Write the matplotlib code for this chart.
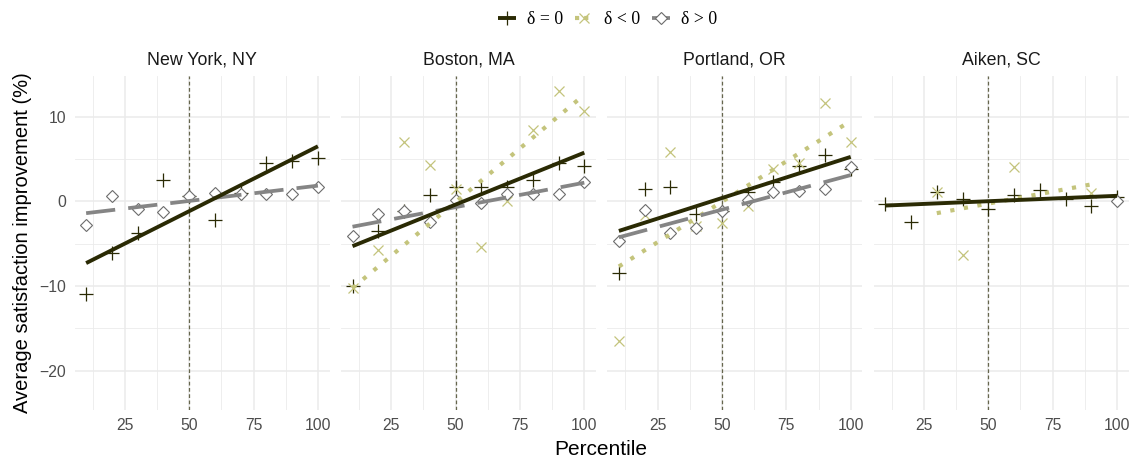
import numpy as np
import matplotlib as mpl
import matplotlib.pyplot as plt
from matplotlib.lines import Line2D

plt.rcParams['font.family'] = ['Liberation Sans', 'DejaVu Sans']

cities = ['New York, NY', 'Boston, MA', 'Portland, OR', 'Aiken, SC']
pct = [10, 20, 30, 40, 50, 60, 70, 80, 90, 100]

# mean improvement per percentile, delta = 0
ny_zero = [-10.9, -6.1, -3.8, 2.5, 0.6, -2.2, 1.0, 4.5, 4.8, 5.1]
bos_zero = [-10.0, -3.5, -1.1, 0.7, 1.7, 1.7, 1.7, 2.5, 4.5, 4.2]
por_zero = [-8.5, 1.5, 1.7, -1.5, -1.2, 1.1, 2.3, 4.2, 5.5, 3.8]
aik_zero = [-0.35, -2.5, 1.1, 0.3, -0.9, 0.7, 1.3, 0.3, -0.6, 0.55]

# delta < 0
bos_neg = [-10.2, -5.8, 7.0, 4.3, 1.5, -5.4, 0.0, 8.4, 13.0, 10.7]
por_neg = [-16.5, -1.6, 5.8, -2.9, -2.6, -0.6, 3.8, 4.5, 11.6, 7.0]
aik_neg_pct = [30, 40, 60, 90]
aik_neg = [1.1, -6.3, 4.1, 1.0]

# delta > 0
ny_pos = [-2.8, 0.6, -0.9, -1.3, 0.6, 1.0, 0.9, 0.9, 0.9, 1.7]
bos_pos = [-4.1, -1.5, -1.2, -2.4, 0.2, -0.2, 0.9, 0.9, 0.9, 2.3]
por_pos = [-4.7, -1.0, -3.7, -3.1, -1.2, 0.2, 1.1, 1.2, 1.4, 4.0]
aik_pos_pct = [100]
aik_pos = [0.0]

# fitted trend, value at lowest and highest percentile of each group
fit_zero = [[-7.3, 6.5], [-5.3, 5.75], [-3.5, 5.25], [-0.5, 0.65]]
fit_neg = [None, [-10.25, 12.6], [-7.7, 9.5], [-1.4, 2.0]]
fit_pos = [[-1.4, 1.85], [-3.0, 2.2], [-4.25, 3.1], None]

zero_pts = [(pct, ny_zero), (pct, bos_zero), (pct, por_zero), (pct, aik_zero)]
neg_pts = [None, (pct, bos_neg), (pct, por_neg), (aik_neg_pct, aik_neg)]
pos_pts = [(pct, ny_pos), (pct, bos_pos), (pct, por_pos), (aik_pos_pct, aik_pos)]

c_zero = '#2a2a04'
c_neg = '#c4c47c'
c_pos = '#858585'
c_pos_pt = '#6c6c6c'

grid_c = '#ebebeb'

neg_style = dict(color=c_neg, linewidth=3.0, linestyle=(0, (1, 2.3)), dash_capstyle='butt')
pos_style = dict(color=c_pos, linewidth=2.7, linestyle=(0, (7.8, 3.5)), dash_capstyle='butt')
zero_style = dict(color=c_zero, linewidth=2.8, solid_capstyle='butt')


def draw_panel(ax, i):
    ax.set_xlim(5.5, 104.5)
    ax.set_ylim(-24.6, 14.8)
    ax.set_xticks([25, 50, 75, 100])
    ax.set_xticks([12.5, 37.5, 62.5, 87.5], minor=True)
    ax.set_yticks([-20, -10, 0, 10])
    ax.set_yticks([-15, -5, 5], minor=True)
    ax.grid(which='major', color=grid_c, linewidth=1.1)
    ax.grid(which='minor', color=grid_c, linewidth=0.6)
    ax.set_axisbelow(True)
    for s in ax.spines.values():
        s.set_visible(False)
    ax.tick_params(which='both', length=0, labelsize=11.3, labelcolor='#4d4d4d', pad=6)
    ax.set_title(cities[i], fontsize=12.8, color='#1a1a1a', pad=8)

    ax.axvline(50, color='#66664d', linestyle=(0, (3, 2)), linewidth=0.9, zorder=1)

    # points
    x, y = zero_pts[i]
    ax.plot(x, y, linestyle='none', marker='+', markersize=9.5, markeredgewidth=0.9,
            color=c_zero, zorder=3)
    if neg_pts[i] is not None:
        x, y = neg_pts[i]
        ax.plot(x, y, linestyle='none', marker='x', markersize=6.5, markeredgewidth=0.9,
                color=c_neg, zorder=3)
    x, y = pos_pts[i]
    ax.plot(x, y, linestyle='none', marker='D', markersize=5.8, markeredgewidth=0.8,
            markerfacecolor='white', markeredgecolor=c_pos_pt, zorder=3)

    # trend lines
    if fit_neg[i] is not None:
        xs = neg_pts[i][0]
        ax.plot([min(xs), max(xs)], fit_neg[i], zorder=4, **neg_style)
    if fit_pos[i] is not None:
        xs = pos_pts[i][0]
        ax.plot([min(xs), max(xs)], fit_pos[i], zorder=4, **pos_style)
    xs = zero_pts[i][0]
    ax.plot([min(xs), max(xs)], fit_zero[i], zorder=5, **zero_style)


fig, axs = plt.subplots(1, 4, figsize=(11.38, 4.61), dpi=100, sharey=True)
fig.subplots_adjust(left=0.0655, right=0.9918, top=0.835, bottom=0.1117, wspace=0.0447)

for i, ax in enumerate(axs):
    draw_panel(ax, i)
    if i > 0:
        ax.tick_params(axis='y', labelleft=False)

axs[0].set_yticklabels(['\u221220', '\u221210', '0', '10'])
axs[0].set_ylabel('Average satisfaction improvement (%)', fontsize=14.5, labelpad=5)
fig.text(0.528, 0.004, 'Percentile', ha='center', va='bottom', fontsize=15)

handles = [
    Line2D([], [], marker='+', markersize=9.5, markeredgewidth=0.9, **zero_style),
    Line2D([], [], marker='x', markersize=6.5, markeredgewidth=0.9,
           **dict(neg_style, linestyle=(0, (1, 1.2)))),
    Line2D([], [], marker='D', markersize=5.8, markeredgewidth=0.8, markerfacecolor='white',
           markeredgecolor=c_pos_pt, **dict(pos_style, linestyle=(0, (2.5, 0.8)))),
]
labels = ['\u03b4 = 0', '\u03b4 < 0', '\u03b4 > 0']
fig.legend(handles, labels, loc='center', bbox_to_anchor=(0.534, 0.957), ncol=3, frameon=False,
           prop={'family': ['Liberation Serif', 'DejaVu Serif'], 'size': 12.8},
           handlelength=1.0, handletextpad=0.6, columnspacing=0.7)

plt.savefig('out.png', dpi=100)
